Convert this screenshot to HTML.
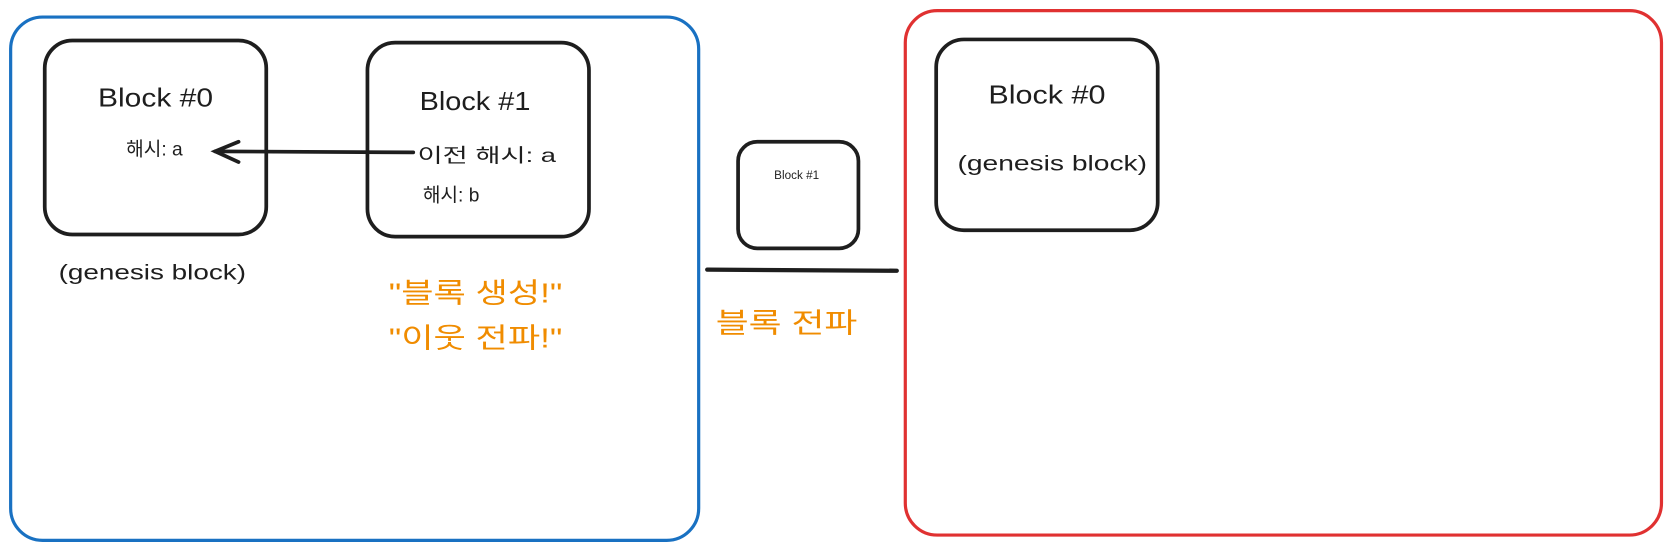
<!DOCTYPE html>
<html><head><meta charset="utf-8"><style>
html,body{margin:0;padding:0;background:#fff;width:1670px;height:550px;overflow:hidden}
svg text{font-family:"Liberation Sans","Noto Sans CJK KR",sans-serif}
</style></head><body>
<svg width="1670" height="550" viewBox="0 0 1568 516" preserveAspectRatio="none" xmlns="http://www.w3.org/2000/svg">
<g fill="none" stroke-linecap="round">
<rect x="10" y="16" width="646" height="491" rx="30" stroke="#1971c2" stroke-width="3"/>
<rect x="850" y="10" width="710" height="492" rx="30" stroke="#e03131" stroke-width="3"/>
<rect x="42" y="38" width="208" height="182" rx="26" stroke="#1e1e1e" stroke-width="3.5"/>
<rect x="345" y="40" width="208" height="182" rx="26" stroke="#1e1e1e" stroke-width="3.5"/>
<rect x="693" y="133" width="113" height="100" rx="18" stroke="#1e1e1e" stroke-width="3.5"/>
<rect x="879" y="37" width="208" height="179" rx="26" stroke="#1e1e1e" stroke-width="3.5"/>
<line x1="664" y1="253" x2="842" y2="254" stroke="#1e1e1e" stroke-width="4"/>
<line x1="388" y1="143" x2="202" y2="142" stroke="#1e1e1e" stroke-width="3.5"/>
<polyline points="224,133 202,142 224,152" stroke="#1e1e1e" stroke-width="3.5"/>
</g>
<g fill="#1e1e1e">
<text x="146" y="100" font-size="24" text-anchor="middle" textLength="108" lengthAdjust="spacingAndGlyphs">Block #0</text>
<text x="145" y="146" font-size="18" text-anchor="middle">해시: a</text>
<text x="446" y="103" font-size="24" text-anchor="middle" textLength="104" lengthAdjust="spacingAndGlyphs">Block #1</text>
<text x="392" y="152" font-size="18" textLength="130" lengthAdjust="spacingAndGlyphs">이전 해시: a</text>
<text x="397" y="189" font-size="18">해시: b</text>
<text x="143" y="262" font-size="20" text-anchor="middle" textLength="176" lengthAdjust="spacingAndGlyphs">(genesis block)</text>
<text x="748" y="168" font-size="11" text-anchor="middle">Block #1</text>
<text x="983" y="97" font-size="24" text-anchor="middle" textLength="110" lengthAdjust="spacingAndGlyphs">Block #0</text>
<text x="988" y="160" font-size="20" text-anchor="middle" textLength="178" lengthAdjust="spacingAndGlyphs">(genesis block)</text>
</g>
<g fill="#f08c00" font-size="26">
<text x="365" y="284" textLength="163" lengthAdjust="spacingAndGlyphs">"블록 생성!"</text>
<text x="365" y="326" textLength="163" lengthAdjust="spacingAndGlyphs">"이웃 전파!"</text>
<text x="672" y="312" textLength="133" lengthAdjust="spacingAndGlyphs">블록 전파</text>
</g>
</svg>
</body></html>
